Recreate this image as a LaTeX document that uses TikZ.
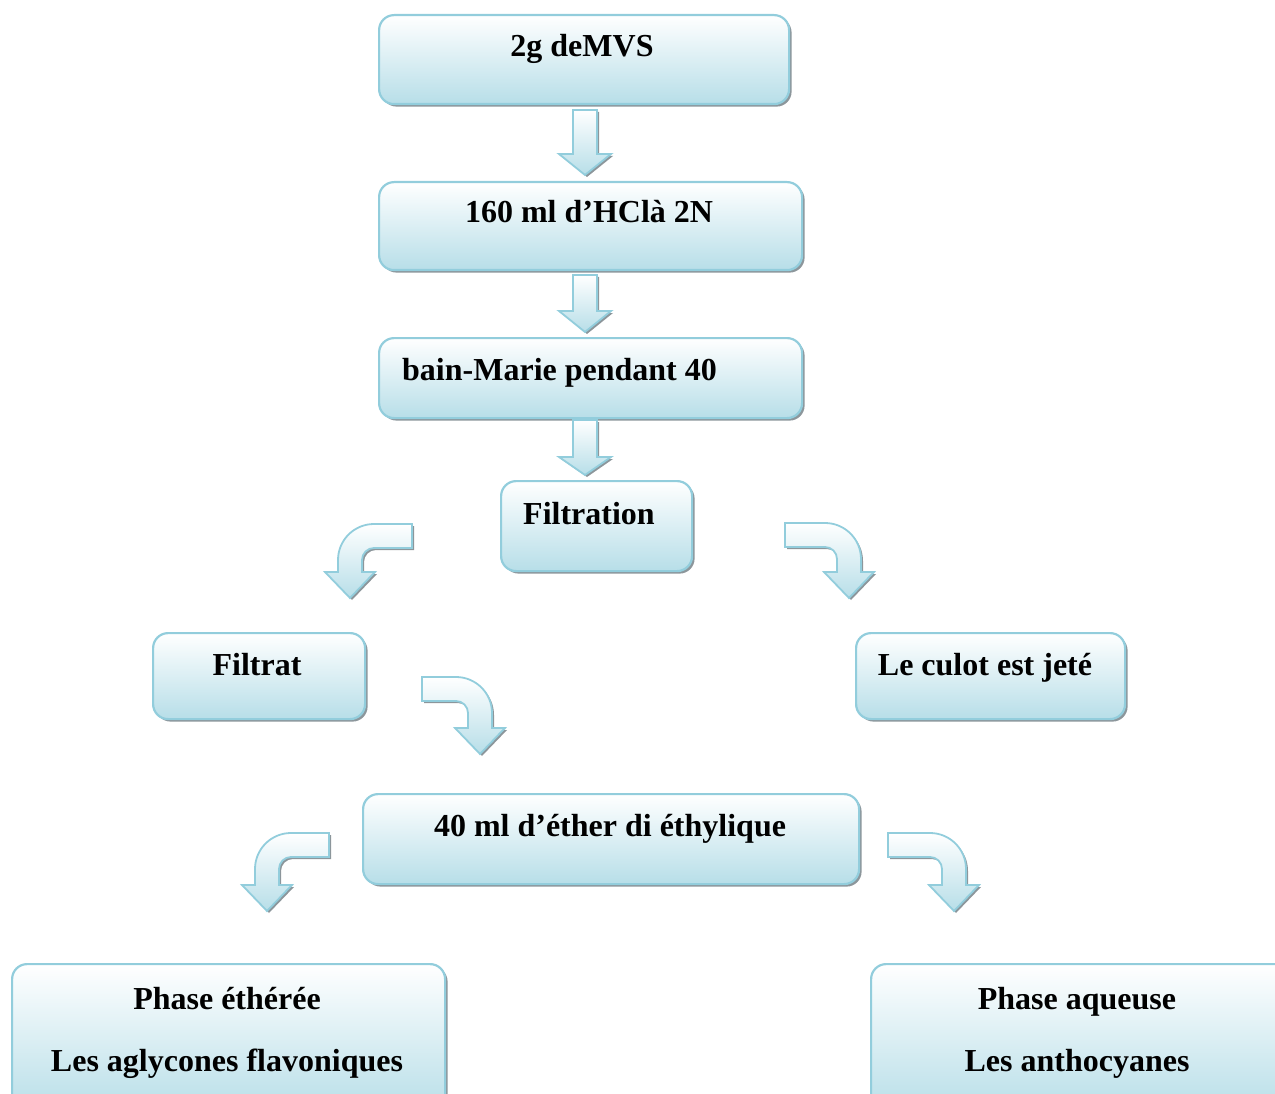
\documentclass[tikz,border=0pt]{standalone}
\usepackage{fontspec}
\setmainfont{Liberation Serif}
\usetikzlibrary{shadows}
\definecolor{bordc}{RGB}{146,205,220}
\definecolor{fillb}{RGB}{183,222,232}
\definecolor{shad}{RGB}{140,150,155}
% straight block arrow: x, top, head y, tip y
\newcommand\sarrow[4]{\path[blk] (#1-12,#2) -- (#1+12,#2) -- (#1+12,#3) -- (#1+26,#3) -- (#1,#4) -- (#1-26,#3) -- (#1-12,#3) -- cycle;}
% curved block arrow: origin x, origin y, direction sign, tail length, head y offset
\newcommand\carrow[5]{\path[blk] (#1,#2) -- ({#1+#3*(#4)},#2)
  .. controls ({#1+#3*(#4+19.9)},#2) and ({#1+#3*(#4+36)},#2+16.1) .. ({#1+#3*(#4+36)},#2+36)
  -- ({#1+#3*(#4+36)},#2+#5) -- ({#1+#3*(#4+49)},#2+#5) -- ({#1+#3*(#4+24)},#2+#5+26)
  -- ({#1+#3*(#4-1)},#2+#5) -- ({#1+#3*(#4+12)},#2+#5) -- ({#1+#3*(#4+12)},#2+36)
  .. controls ({#1+#3*(#4+12)},#2+29.4) and ({#1+#3*(#4+6.6)},#2+24) .. ({#1+#3*(#4)},#2+24)
  -- (#1,#2+24) -- cycle;}
\begin{document}
\begin{tikzpicture}[x=1pt,y=-1pt,
  box/.style={draw=bordc, line width=2.2pt, rounded corners=15pt, top color=white, bottom color=fillb,
    anchor=north west, inner sep=0pt, general shadow={fill=shad, shadow xshift=2.5pt, shadow yshift=-2.5pt}},
  txt/.style={font=\fontsize{32}{38}\selectfont\bfseries, anchor=base, inner sep=0pt},
  blk/.style={draw=bordc, line width=1.8pt, line join=miter, top color=white, bottom color=fillb,
    general shadow={fill=shad, shadow xshift=2pt, shadow yshift=-2pt}}]
\useasboundingbox (0,0) rectangle (1275,1094);
% boxes
\node[box, minimum width=410pt, minimum height=89pt] (b1) at (378,14) {};
\node[box, minimum width=423pt, minimum height=88pt] (b2) at (378,181) {};
\node[box, minimum width=423pt, minimum height=80pt] (b3) at (378,337) {};
\node[box, minimum width=191pt, minimum height=90pt] (b4) at (500,480) {};
\node[box, minimum width=212pt, minimum height=86pt] (b5) at (152,632) {};
\node[box, minimum width=269pt, minimum height=86pt] (b6) at (855,632) {};
\node[box, minimum width=496pt, minimum height=90pt] (b7) at (362,793) {};
\node[box, minimum width=433pt, minimum height=150pt] (b8) at (11,963) {};
\node[box, minimum width=430pt, minimum height=150pt] (b9) at (870,963) {};
% texts
\node[txt] (t1) at (582,57) {2g deMVS};
\node[txt] (t2) at (589,223) {160 ml d’HClà 2N};
\node[txt, anchor=base west] (t3) at (402,380) {bain-Marie pendant 40};
\node[txt] (t4) at (589,524) {Filtration};
\node[txt] (t5) at (257,675) {Filtrat};
\node[txt] (t6) at (985,675) {Le culot est jeté};
\node[txt] (t7) at (610,836) {40 ml d’éther di éthylique};
\node[txt] (t8a) at (227,1009) {Phase éthérée};
\node[txt] (t8b) at (227,1071) {Les aglycones flavoniques};
\node[txt] (t9a) at (1077,1009) {Phase aqueuse};
\node[txt] (t9b) at (1077,1071) {Les anthocyanes};
% straight arrows
\sarrow{585}{110}{154}{175}
\sarrow{585}{275}{311}{332}
\sarrow{585}{420}{457}{475}
% curved arrows
\carrow{412}{524}{-1}{38}{48}
\carrow{785}{523}{1}{40}{49}
\carrow{422}{677}{1}{34}{51}
\carrow{329}{833}{-1}{38}{52}
\carrow{888}{833}{1}{42}{52}
\end{tikzpicture}
\end{document}
